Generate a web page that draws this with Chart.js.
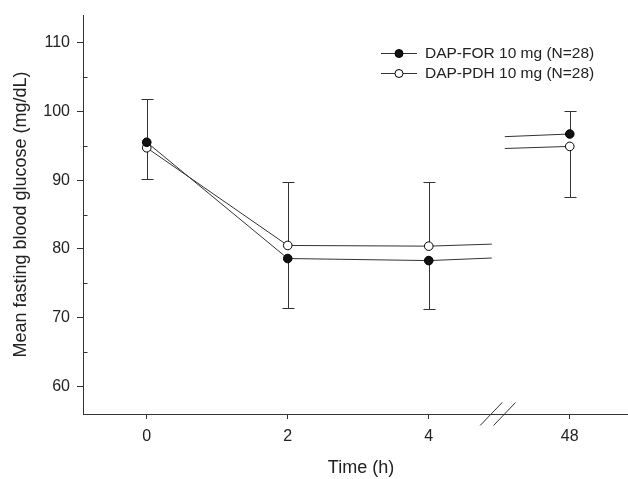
<!DOCTYPE html>
<html>
<head>
<meta charset="utf-8">
<script src="https://cdn.jsdelivr.net/npm/chart.js@4.4.0/dist/chart.umd.min.js"></script>
<style>
  body { margin: 0; background: #fff; }
  #wrap { width: 628px; height: 479px; }
</style>
</head>
<body>
<div id="wrap"><canvas id="glucoseChart"></canvas></div>
<script>
// data
const timeLabels = ["0", "2", "4", "48"];
const timeHours = [0, 2, 4, 48];
const forMean = [95.5, 78.6, 78.3, 96.7];
const forErr = [6.35, 7.25, 7.0, 3.35];
const forErrDir = [1, -1, -1, 1];
const pdhMean = [94.7, 80.5, 80.4, 94.9];
const pdhErr = [4.55, 9.2, 9.3, 7.4];
const pdhErrDir = [-1, 1, 1, -1];
const yTicks = [60, 70, 80, 90, 100, 110];
const yMinorTicks = [65, 75, 85, 95, 105];
const seriesNames = ["DAP-FOR 10 mg (N=28)", "DAP-PDH 10 mg (N=28)"];

const FONT = "'Liberation Sans', Arial, sans-serif";
const INK = "#222";

// x is drawn by slot (0,1,2,3); the 4h -> 48h stretch is cut by an axis break
const HOURS_PER_SLOT = 2;
const BREAK_START = 2.447, BREAK_MID = 2.49, BREAK_END = 2.539;

function buildLine(means) {
  const pts = means.slice(0, 3).map((v, i) => ({ x: i, y: v }));
  const v4 = means[2], v48 = means[3];
  const span = timeHours[3] - timeHours[2];
  const valueAt = slot => {
    const h = slot < BREAK_MID
      ? timeHours[2] + (slot - 2) * HOURS_PER_SLOT
      : timeHours[3] - (3 - slot) * HOURS_PER_SLOT;
    return v4 + (v48 - v4) * (h - timeHours[2]) / span;
  };
  pts.push({ x: BREAK_START, y: valueAt(BREAK_START), edge: true });
  pts.push({ x: BREAK_MID, y: null, edge: true });
  pts.push({ x: BREAK_END, y: valueAt(BREAK_END), edge: true });
  pts.push({ x: 3, y: means[3] });
  return pts;
}

// keep the plot area where the figure has it
function noPadding(s) {
  s.paddingTop = 0;
  s.paddingBottom = 0;
  s.paddingLeft = 0;
  s.paddingRight = 0;
}

const extras = {
  id: "extras",
  beforeDatasetsDraw(chart) {
    const { ctx, scales: { x, y } } = chart;
    ctx.save();
    ctx.strokeStyle = "#333";
    ctx.lineWidth = 1;
    [[forMean, forErr, forErrDir], [pdhMean, pdhErr, pdhErrDir]].forEach(([m, e, d]) => {
      m.forEach((v, i) => {
        const px = Math.round(x.getPixelForValue(i)) + 0.5;
        const y0 = y.getPixelForValue(v);
        const y1 = Math.round(y.getPixelForValue(v + d[i] * e[i])) + 0.5;
        ctx.beginPath();
        ctx.moveTo(px, y0);
        ctx.lineTo(px, y1);
        ctx.moveTo(px - 6, y1);
        ctx.lineTo(px + 6, y1);
        ctx.stroke();
      });
    });
    ctx.restore();
  },
  afterDraw(chart) {
    const { ctx, chartArea, scales: { x, y } } = chart;
    ctx.save();
    ctx.strokeStyle = "#333";
    ctx.lineWidth = 1;

    // minor ticks on the inside of the y axis
    const ax = Math.round(chartArea.left) + 0.5;
    yMinorTicks.forEach(v => {
      const py = Math.round(y.getPixelForValue(v)) + 0.5;
      ctx.beginPath();
      ctx.moveTo(ax, py);
      ctx.lineTo(ax + 4, py);
      ctx.stroke();
    });

    // axis break marks
    const bx = x.getPixelForValue(BREAK_MID);
    const by = chartArea.bottom;
    [-6.7, 6.7].forEach(off => {
      ctx.beginPath();
      ctx.moveTo(bx + off - 11, by + 11.5);
      ctx.lineTo(bx + off + 11, by - 11.5);
      ctx.stroke();
    });

    // x axis title
    ctx.fillStyle = INK;
    ctx.font = "18px " + FONT;
    ctx.textAlign = "center";
    ctx.textBaseline = "middle";
    ctx.fillText("Time (h)", 361, 468);

    // legend
    ctx.textAlign = "left";
    const rows = [53, 73];
    chart.data.datasets.forEach((ds, i) => {
      const ly = rows[i] + 0.5;
      ctx.strokeStyle = "#333";
      ctx.beginPath();
      ctx.moveTo(381, ly);
      ctx.lineTo(417, ly);
      ctx.stroke();
      ctx.beginPath();
      ctx.arc(399, ly, 4, 0, Math.PI * 2);
      ctx.fillStyle = ds.pointBackgroundColor;
      ctx.fill();
      ctx.strokeStyle = "#000";
      ctx.stroke();
      ctx.fillStyle = INK;
      ctx.font = "15.5px " + FONT;
      ctx.fillText(seriesNames[i], 425, ly);
    });
    ctx.restore();
  }
};

new Chart(document.getElementById("glucoseChart"), {
  type: "line",
  data: {
    datasets: [
      {
        label: seriesNames[0],
        data: buildLine(forMean),
        borderColor: "#333",
        borderWidth: 1,
        pointBackgroundColor: "#111",
        pointBorderColor: "#000",
        pointBorderWidth: 1,
        pointRadius: c => (c.raw && c.raw.edge ? 0 : 4.3),
        spanGaps: false
      },
      {
        label: seriesNames[1],
        data: buildLine(pdhMean),
        borderColor: "#333",
        borderWidth: 1,
        pointBackgroundColor: "#fff",
        pointBorderColor: "#000",
        pointBorderWidth: 1,
        pointRadius: c => (c.raw && c.raw.edge ? 0 : 4.3),
        spanGaps: false
      }
    ]
  },
  options: {
    responsive: true,
    maintainAspectRatio: false,
    animation: false,
    layout: { autoPadding: false, padding: { top: 15, right: 0, left: 0, bottom: 0 } },
    plugins: { legend: { display: false }, tooltip: { enabled: false } },
    scales: {
      x: {
        type: "linear",
        min: -0.452,
        max: 3.413,
        afterBuildTicks: s => { s.ticks = timeLabels.map((_, i) => ({ value: i })); },
        afterFit: s => { s.height = 65; noPadding(s); },
        ticks: {
          callback: v => timeLabels[v],
          font: { size: 16, family: FONT },
          color: INK,
          padding: 8,
          maxRotation: 0
        },
        grid: { drawOnChartArea: false, tickLength: 5, color: "#333" },
        border: { color: "#333" }
      },
      y: {
        min: 56,
        max: 114,
        afterBuildTicks: s => { s.ticks = yTicks.map(v => ({ value: v })); },
        afterFit: s => { s.width = 83; noPadding(s); },
        ticks: { font: { size: 16, family: FONT }, color: INK, padding: 7 },
        grid: { drawOnChartArea: false, tickLength: 6, color: "#333" },
        border: { color: "#333" },
        title: {
          display: true,
          text: "Mean fasting blood glucose (mg/dL)",
          font: { size: 18, family: FONT },
          color: INK,
          padding: { top: 10, bottom: 0 }
        }
      }
    }
  },
  plugins: [extras]
});
</script>
</body>
</html>
